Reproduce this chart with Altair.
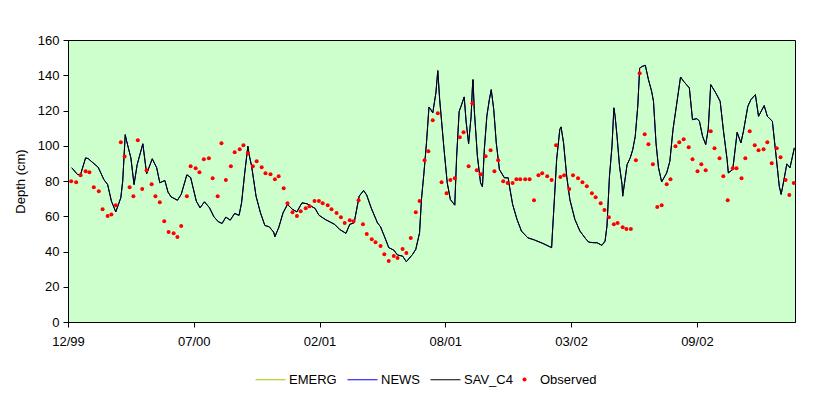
import altair as alt
import pandas as pd

# ---- data ----
series_names = ["EMERG", "NEWS", "SAV_C4"]
series_colors = ["#99CC00", "#0000FF", "#000000"]
obs_name = "Observed"
obs_color = "#FF0000"

tick_days = [0, 200, 400, 600, 800, 1000]
tick_labels = ["12/99", "07/00", "02/01", "08/01", "03/02", "09/02"]
x_max = 1156

sim_day = [6, 15, 20, 28, 32, 48, 57, 63, 69, 76, 84, 87, 91, 93, 100, 105, 110, 119, 125, 134,
           141, 146, 154, 159, 164, 174, 180, 189, 195, 204, 210, 217, 225, 232, 239, 245, 251, 258,
           265, 272, 276, 281, 286, 288, 292, 299, 306, 313, 320, 327, 329, 335, 342, 349, 357, 364,
           372, 380, 393, 399, 409, 417, 424, 432, 442, 448, 455, 463, 470, 475, 482, 492, 497, 505,
           510, 518, 524, 532, 538, 548, 553, 559, 562, 566, 570, 574, 577, 580, 585, 588, 591, 598,
           603, 608, 615, 618, 622, 625, 630, 633, 637, 641, 643, 644, 646, 651, 656, 659, 662, 666,
           670, 673, 677, 681, 686, 694, 700, 702, 707, 714, 721, 731, 742, 755, 769, 770, 774, 777,
           782, 784, 788, 793, 798, 806, 814, 823, 828, 836, 841, 849, 854, 857, 861, 865, 868, 870,
           873, 877, 881, 882, 885, 889, 894, 898, 902, 906, 909, 913, 918, 923, 928, 931, 935, 939,
           944, 952, 957, 962, 967, 974, 979, 988, 993, 1000, 1004, 1009, 1014, 1018, 1022, 1030,
           1037, 1042, 1048, 1050, 1057, 1064, 1070, 1074, 1081, 1086, 1093, 1098, 1107, 1112, 1120,
           1126, 1131, 1134, 1139, 1143, 1148, 1155]
sim_depth = [87.5, 83.7, 83.7, 93.1, 92.7, 87.8, 80.8, 78.0, 68.6, 62.5, 70.5, 79.9, 106.3, 103.0,
             93.1, 78.0, 89.3, 101.1, 84.1, 92.6, 87.5, 79.0, 80.3, 73.7, 71.0, 69.1, 72.4, 83.5,
             82.0, 68.6, 64.8, 68.2, 64.8, 59.7, 56.9, 55.9, 59.5, 57.8, 61.6, 60.5, 67.6, 84.6, 99.7,
             95.0, 88.4, 71.4, 62.0, 54.8, 54.0, 51.0, 48.4, 53.5, 62.0, 66.7, 63.9, 62.5, 67.6, 67.1,
             64.4, 60.6, 58.2, 56.7, 55.4, 52.5, 50.3, 55.4, 56.3, 71.4, 74.6, 72.0, 64.8, 56.3, 54.0,
             46.9, 42.2, 40.8, 38.0, 37.4, 34.2, 38.4, 41.2, 50.6, 69.5, 84.6, 101.6, 122.0, 120.5,
             118.6, 130.0, 142.6, 126.2, 97.8, 79.0, 69.5, 66.3, 94.0, 119.5, 122.4, 127.7, 113.9,
             101.2, 116.7, 132.8, 137.5, 120.5, 94.0, 79.0, 76.7, 97.8, 116.7, 126.2, 131.8, 120.5,
             101.6, 86.5, 81.8, 81.8, 77.0, 66.7, 58.2, 51.6, 47.8, 46.5, 44.6, 42.2, 48.7, 73.3,
             92.2, 109.2, 110.7, 101.6, 82.7, 69.5, 58.2, 51.6, 47.3, 45.3, 45.0, 45.0, 43.5, 45.9,
             54.4, 82.7, 99.7, 121.5, 116.7, 105.4, 88.4, 78.0, 71.4, 79.0, 89.3, 93.1, 97.8, 105.4,
             122.4, 144.1, 145.0, 145.6, 137.5, 130.9, 125.2, 101.6, 87.5, 79.5, 84.6, 91.2, 109.2,
             121.5, 139.0, 136.5, 132.8, 114.8, 115.4, 113.9, 105.4, 100.7, 109.2, 134.7, 130.0,
             125.2, 109.2, 92.2, 84.6, 86.5, 107.6, 101.6, 108.2, 122.4, 126.2, 129.0, 116.7, 122.8,
             116.7, 113.9, 94.0, 77.0, 72.4, 81.8, 89.7, 87.5, 98.8]

obs_day = [5, 13, 20, 28, 34, 41, 49, 55, 63, 69, 76, 84, 90, 98, 104, 111, 118, 125, 133, 139,
           146, 153, 160, 168, 174, 180, 189, 195, 203, 209, 216, 224, 230, 238, 244, 251, 259, 265,
           273, 279, 286, 294, 300, 308, 314, 322, 329, 335, 343, 349, 357, 364, 370, 378, 384, 392,
           399, 405, 413, 419, 427, 434, 440, 448, 454, 462, 469, 475, 483, 489, 497, 503, 510, 518,
           524, 532, 538, 545, 553, 559, 567, 573, 580, 588, 594, 602, 608, 615, 623, 629, 637, 643,
           650, 656, 664, 672, 678, 684, 692, 699, 707, 713, 719, 727, 734, 741, 748, 754, 762, 769,
           776, 783, 789, 797, 803, 811, 818, 825, 833, 839, 847, 853, 860, 868, 874, 882, 888, 895,
           903, 909, 917, 923, 930, 937, 944, 952, 958, 966, 972, 979, 987, 993, 1001, 1007, 1014,
           1022, 1028, 1036, 1042, 1049, 1057, 1063, 1071, 1077, 1084, 1092, 1098, 1106, 1112, 1119,
           1127, 1133, 1141, 1147, 1154]
obs_depth = [79.9, 79.3, 83.3, 85.6, 85.0, 76.5, 74.2, 64.0, 60.1, 61.0, 66.3, 102.0, 93.9, 76.5,
             71.4, 103.1, 75.4, 86.1, 78.2, 71.4, 68.0, 57.2, 51.0, 50.4, 48.2, 54.4, 71.4, 88.4,
             87.3, 85.0, 92.4, 92.9, 81.6, 71.4, 101.4, 80.5, 88.4, 96.3, 98.0, 100.3, 95.8, 88.4,
             91.2, 87.8, 84.4, 83.9, 81.0, 82.7, 75.9, 67.4, 62.3, 60.1, 62.9, 64.6, 65.7, 68.6, 68.6,
             67.4, 66.3, 64.0, 61.8, 59.5, 56.1, 57.8, 57.2, 69.1, 55.5, 49.9, 47.0, 45.3, 43.1, 38.5,
             34.6, 37.4, 36.3, 41.4, 39.1, 47.6, 62.3, 68.6, 91.8, 96.9, 114.4, 118.4, 79.3, 73.1,
             80.5, 81.6, 104.8, 107.6, 88.4, 124.1, 86.1, 83.9, 94.0, 97.5, 85.6, 91.8, 79.9, 78.8,
             78.8, 81.0, 81.0, 81.0, 81.0, 69.1, 83.3, 84.4, 82.7, 80.5, 100.3, 82.2, 83.3, 75.4,
             83.3, 81.6, 79.3, 77.0, 73.1, 70.8, 67.4, 63.5, 59.5, 55.5, 56.1, 53.8, 52.7, 52.7, 91.8,
             141.1, 106.5, 100.8, 89.5, 65.2, 66.3, 78.2, 81.0, 99.7, 102.0, 103.7, 99.2, 92.4, 85.6,
             89.5, 86.1, 108.2, 98.6, 92.9, 82.7, 69.1, 87.3, 87.3, 81.6, 92.9, 108.2, 100.3, 97.5,
             98.0, 102.0, 90.1, 98.6, 93.5, 80.5, 72.0, 78.8]

# ---- tables ----
sim_rows = []
for name in series_names:
    for d, v in zip(sim_day, sim_depth):
        sim_rows.append({"day": d, "depth": v, "series": name})
sim_df = pd.DataFrame(sim_rows)
obs_df = pd.DataFrame({"day": obs_day, "depth": obs_depth, "series": [obs_name] * len(obs_day)})

label_expr = "[" + ",".join("'" + t + "'" for t in tick_labels) + "][round(datum.value/200)]"

x_enc = alt.X(
    "day:Q",
    scale=alt.Scale(domain=[0, x_max], nice=False, zero=False),
    axis=alt.Axis(values=tick_days, labelExpr=label_expr, title=None, labelFlush=False,
                  labelOverlap=False, tickSize=5, labelPadding=8),
)
y_enc = alt.Y(
    "depth:Q",
    scale=alt.Scale(domain=[0, 160], nice=False),
    axis=alt.Axis(values=list(range(0, 161, 20)), title="Depth (cm)", tickSize=5,
                  labelPadding=4, titlePadding=10),
)

lines = alt.Chart(sim_df).mark_line(strokeWidth=1).encode(
    x=x_enc,
    y=y_enc,
    stroke=alt.Stroke(
        "series:N",
        scale=alt.Scale(domain=series_names, range=series_colors),
        legend=alt.Legend(
            title=None, orient="none", direction="horizontal", legendX=187, legendY=324,
            symbolType="stroke", symbolSize=900, symbolStrokeWidth=1, labelOffset=3,
            columnPadding=8, gridAlign="each",
        ),
    ),
)

points = alt.Chart(obs_df).mark_circle(size=16, opacity=1).encode(
    x=x_enc,
    y=y_enc,
    fill=alt.Fill(
        "series:N",
        scale=alt.Scale(domain=[obs_name], range=[obs_color]),
        legend=alt.Legend(
            title=None, orient="none", direction="horizontal", legendX=450, legendY=333,
            symbolType="circle", symbolSize=16, labelOffset=9,
        ),
    ),
)

chart = (
    alt.layer(lines, points)
    .properties(
        width=727,
        height=282,
        autosize="none",
        padding={"left": 60, "top": 32, "right": 28, "bottom": 66},
        background="white",
    )
    .configure_view(fill="#CCFFCC", stroke="black", strokeWidth=1)
    .configure_axis(
        grid=False,
        labelFont="Liberation Sans",
        titleFont="Liberation Sans",
        labelFontSize=13,
        titleFontSize=13,
        titleFontWeight="normal",
        labelColor="black",
        titleColor="black",
        domainColor="black",
        tickColor="black",
    )
    .configure_legend(
        labelFont="Liberation Sans",
        labelFontSize=13,
        labelColor="black",
    )
)

chart.save("out.html", embed_options={"renderer": "svg", "actions": False})
